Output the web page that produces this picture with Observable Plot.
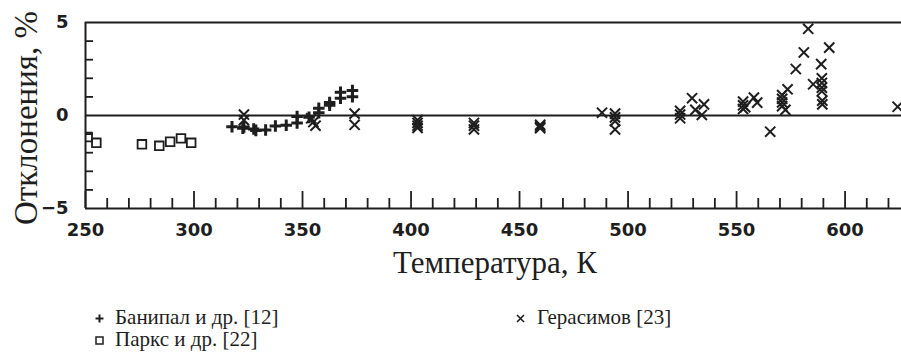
<!DOCTYPE html>
<html>
<head>
<meta charset="utf-8">
<script src="https://cdn.jsdelivr.net/npm/d3@7"></script>
<script src="https://cdn.jsdelivr.net/npm/@observablehq/plot@0.6"></script>
<style>
  html, body { margin: 0; padding: 0; background: #fff; }
  #wrap { position: relative; width: 901px; height: 353px; overflow: hidden; background: #fff; }
  #chart { position: absolute; left: 0; top: 0; }
  .serif { font-family: "Liberation Serif", "Times New Roman", serif; color: #1e1e1e; position: absolute; white-space: nowrap; line-height: 1; }
  .lg { position: absolute; }
</style>
</head>
<body>
<div id="wrap">
  <div id="chart"></div>
  <div class="serif" id="ylabel" style="left:26px;top:118px;font-size:33px;transform:translate(-50%,-50%) rotate(-90deg);"></div>
  <div class="serif" id="xlabel" style="left:495px;top:247px;font-size:31px;transform:translateX(-50%);"></div>
  <div id="legend"></div>
</div>
<script>
// ---- data ----
const xTitle = "Температура, К";
const yTitle = "Отклонения, %";
const seriesNames = ["Банипал и др. [12]", "Паркс и др. [22]", "Герасимов [23]"];

// [T, deviation %]
const banipal = [
  [317.5, -0.60], [322.5, -0.68], [323, -0.62], [327.5, -0.72], [328.5, -0.80],
  [333, -0.78], [337.5, -0.57], [342.5, -0.52], [347.5, -0.40], [347.5, -0.06],
  [353, -0.10], [357.5, 0.15], [357.5, 0.39], [362.5, 0.55], [362.5, 0.70],
  [367.5, 0.93], [367.5, 1.25], [373, 1.01], [373, 1.34]
];
const parks = [
  [251, -1.16], [255, -1.47], [276, -1.55], [284, -1.63], [289, -1.41], [294, -1.23], [298.7, -1.47]
];
const gerasimov = [
  [323, 0.05], [323, -0.25], [354, -0.15], [355, -0.35], [356, -0.55],
  [374, 0.10], [374, -0.50],
  [403, -0.25], [403, -0.40], [403, -0.55], [403, -0.67],
  [429, -0.40], [429, -0.55], [429, -0.75],
  [459.5, -0.50], [459.5, -0.60], [459.5, -0.68],
  [488, 0.15], [494, 0.10], [494, -0.10], [494, -0.30], [494, -0.75],
  [524, 0.25], [524, 0.05], [524, -0.15],
  [529.5, 0.93], [531, 0.30], [534, 0.03], [535, 0.60],
  [553, 0.35], [553, 0.55], [553, 0.75], [554, 0.45], [558, 0.96], [559.5, 0.69],
  [565.5, -0.87],
  [571, 1.10], [571, 0.90], [571, 0.70], [571, 0.50], [572.5, 0.30], [573.5, 1.41],
  [577.3, 2.50], [581, 3.39], [583, 4.66], [585.3, 1.68], [589, 2.76],
  [589.3, 2.00], [589.3, 1.75], [589.3, 1.50], [589.3, 1.30], [589.5, 0.80], [589.5, 0.60],
  [592.7, 3.65], [624.2, 0.47]
];

const xDomain = [250, 626];
const yDomain = [-5, 5];
const xMajor = [250, 300, 350, 400, 450, 500, 550, 600];
const xMinor = [260, 270, 280, 290, 310, 320, 330, 340, 360, 370, 380, 390, 410, 420, 430, 440,
                460, 470, 480, 490, 510, 520, 530, 540, 560, 570, 580, 590, 610, 620];
const yMajor = [-5, 0, 5];
const yMinor = [-4, -3, -2, -1, 1, 2, 3, 4];

const INK = "#1e1e1e";
const tickFont = {fontSize: 18, fontWeight: "bold", fontFamily: "DejaVu Sans"};

const W = 901, H = 246, ML = 85, MR = 0, MT = 22, MB = 38;
const frameW = W - ML - MR, frameH = H - MT - MB;

const chart = Plot.plot({
  width: W,
  height: H,
  marginLeft: ML,
  marginRight: MR,
  marginTop: MT,
  marginBottom: MB,
  x: {domain: xDomain},
  y: {domain: yDomain},
  style: {background: "transparent", color: INK, overflow: "visible"},
  marks: [
    // frame lines and zero line
    Plot.ruleY([yDomain[1], yDomain[0]], {stroke: INK, strokeWidth: 2}),
    Plot.ruleX([xDomain[0]], {stroke: INK, strokeWidth: 2}),
    Plot.ruleY([0], {stroke: INK, strokeWidth: 2}),
    // inward ticks
    Plot.tickX(xMinor, {x: d => d, insetTop: frameH - 10, stroke: INK, strokeWidth: 1.8}),
    Plot.tickX(xMajor, {x: d => d, insetTop: frameH - 17, stroke: INK, strokeWidth: 1.8}),
    Plot.tickY(yMinor, {y: d => d, insetRight: frameW - 8, stroke: INK, strokeWidth: 1.8}),
    // tick labels
    Plot.axisX(xMajor, {tickSize: 0, tickPadding: 15, label: null, ...tickFont}),
    Plot.axisY(yMajor, {tickSize: 0, tickPadding: 17, label: null, ...tickFont}),
    // data
    Plot.dot(gerasimov, {x: d => d[0], y: d => d[1], symbol: "times", r: 4.7, stroke: INK, strokeWidth: 2}),
    Plot.dot(banipal, {x: d => d[0], y: d => d[1], symbol: "plus", r: 3.8, stroke: INK, strokeWidth: 3}),
    Plot.dot(parks.filter(d => d[0] > xDomain[0] + 3), {x: d => d[0], y: d => d[1], symbol: "square2", r: 5.5, stroke: INK, fill: "none", strokeWidth: 1.8}),
    Plot.dot(parks.filter(d => d[0] <= xDomain[0] + 3), {x: d => d[0], y: d => d[1], symbol: "square2", r: 5.5, stroke: INK, fill: "none", strokeWidth: 1.8, clip: true})
  ]
});
document.getElementById("chart").appendChild(chart);
document.getElementById("ylabel").textContent = yTitle;
document.getElementById("xlabel").textContent = xTitle;

// legend
const legendPos = [
  {mx: 99, my: 318, tx: 115, ty: 307, shape: "plus"},
  {mx: 99, my: 340, tx: 115, ty: 329, shape: "square"},
  {mx: 520, my: 318, tx: 537, ty: 307, shape: "times"}
];
const shapes = {
  plus: '<path d="M0.5,4.5H8.5M4.5,0.5V8.5" stroke="' + INK + '" stroke-width="2" fill="none"/>',
  square: '<rect x="1" y="1" width="7" height="7" stroke="' + INK + '" stroke-width="1.5" fill="none"/>',
  times: '<path d="M1,1L8,8M1,8L8,1" stroke="' + INK + '" stroke-width="1.6" fill="none"/>'
};
const lg = document.getElementById("legend");
seriesNames.forEach((name, i) => {
  const p = legendPos[i];
  const m = document.createElement("div");
  m.className = "lg";
  m.style.left = (p.mx - 4.5) + "px";
  m.style.top = (p.my - 4.5) + "px";
  m.innerHTML = '<svg width="9" height="9" style="display:block">' + shapes[p.shape] + '</svg>';
  lg.appendChild(m);
  const t = document.createElement("div");
  t.className = "serif";
  t.style.left = p.tx + "px";
  t.style.top = p.ty + "px";
  t.style.fontSize = "21px";
  t.style.lineHeight = "21px";
  t.style.height = "21px";
  t.textContent = name;
  lg.appendChild(t);
});
</script>
</body>
</html>
